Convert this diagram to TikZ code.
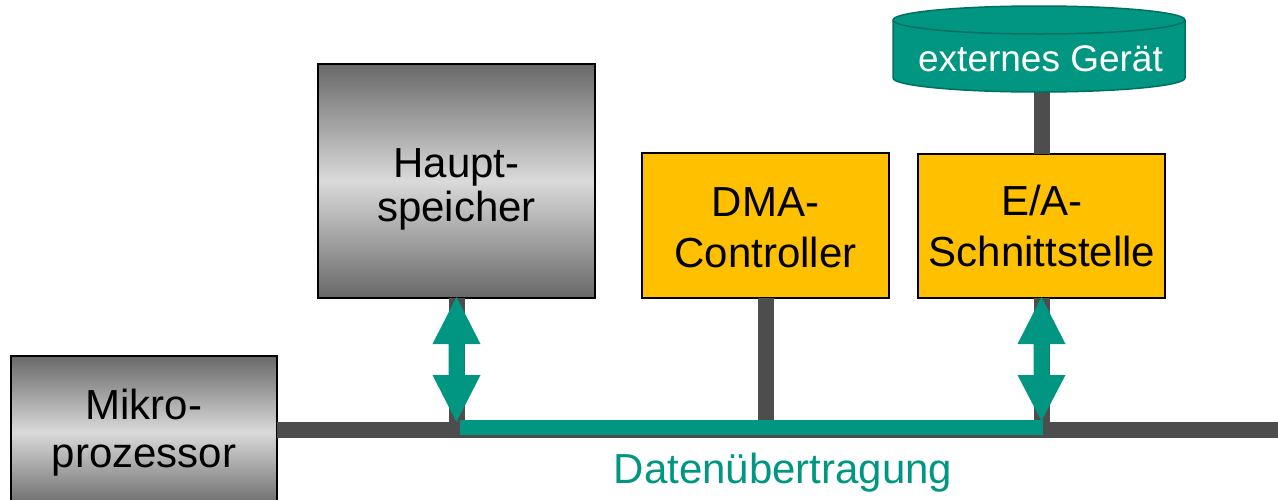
\documentclass[tikz,border=0pt]{standalone}
\usepackage{fontspec}
\setmainfont{Liberation Sans}
\usetikzlibrary{calc}
\definecolor{dteal}{RGB}{0,150,130}
\definecolor{cylborder}{RGB}{0,112,96}
\definecolor{gold}{RGB}{255,192,0}
\definecolor{busgray}{RGB}{77,77,77}
\definecolor{boxdark}{RGB}{104,104,104}
\definecolor{boxlight}{RGB}{218,218,218}
\begin{document}
\begin{tikzpicture}[x=1pt,y=1pt,
  graybox/.style={draw=black, line width=2pt, shading=axis, top color=boxdark, bottom color=boxdark, middle color=boxlight, inner sep=0pt, outer sep=0pt},
  goldbox/.style={draw=black, line width=2pt, fill=gold, inner sep=0pt, outer sep=0pt},
  txt/.style={align=center, inner sep=0pt, font=\fontsize{42}{51}\selectfont},
  stem/.style={draw=busgray, line width=16pt},
  dataline/.style={draw=dteal, line width=15pt},
  arrowfill/.style={fill=dteal}
]
\useasboundingbox (0,0) rectangle (1278,-499);

% boxes
\node[graybox, minimum width=266, minimum height=152, anchor=north west] (mikro) at (11,-356) {};
\node[graybox, minimum width=277, minimum height=234, anchor=north west] (haupt) at (318,-64) {};
\node[goldbox, minimum width=247, minimum height=145, anchor=north west] (dma) at (642,-153) {};
\node[goldbox, minimum width=247, minimum height=144, anchor=north west] (ea) at (918,-154) {};

% bus and stems
\coordinate (busend) at (1282,-430);
\draw[stem] (mikro.east |- busend) -- (busend);
\draw[stem] (haupt.south) -- (haupt.south |- busend);
\draw[stem] (dma.south) -- (dma.south |- busend);
\draw[stem] (ea.south) -- (ea.south |- busend);
\coordinate (cylbot) at (1041.5,-88);
\draw[stem] (cylbot) -- (ea.north);

% data transfer line
\draw[dataline] ($(haupt.south |- busend)+(3,2.5)$) -- ($(ea.south |- busend)+(1.5,2.5)$);

% double arrows
\fill[arrowfill] ($(haupt.south)+(0,1)$) -- ++(24,-47) -- ++(-16,0) -- ++(0,-31) -- ++(16,0) -- ++(-24,-47) -- ++(-24,47) -- ++(16,0) -- ++(0,31) -- ++(-16,0) -- cycle;
\fill[arrowfill] ($(ea.south)+(0,1)$) -- ++(24,-47) -- ++(-16,0) -- ++(0,-31) -- ++(16,0) -- ++(-24,-46) -- ++(-24,46) -- ++(16,0) -- ++(0,31) -- ++(-16,0) -- cycle;

% cylinder
\fill[dteal] (893,-20) -- (893,-78) arc[start angle=180, end angle=360, x radius=146, y radius=14] -- (1185,-20) arc[start angle=0, end angle=180, x radius=146, y radius=14] -- cycle;
\draw[cylborder, line width=1.5pt] (893,-20) -- (893,-78) arc[start angle=180, end angle=360, x radius=146, y radius=14] -- (1185,-20);
\draw[cylborder, line width=1.5pt] (1039,-20) ellipse[x radius=146, y radius=14];
\node[font=\fontsize{37}{44}\selectfont, text=white, anchor=base, inner sep=0pt] (geraet) at (1040.5,-71) {externes Gerät};

% texts
\node[txt, font=\fontsize{42}{48}\selectfont] (mikroT) at (mikro.center |- 0,-433) {Mikro-\\prozessor};
\node[txt, font=\fontsize{42}{44}\selectfont] (hauptT) at (456.5,-189.5) {Haupt-\\speicher};
\node[txt] (dmaT) at (765.5,-227.5) {DMA-\\Controller};
\node[txt] (eaT) at (1042,-226) {E/A-\\Schnittstelle};
\node[font=\fontsize{42}{50}\selectfont, text=dteal, anchor=base, inner sep=0pt] (daten) at (783,-483) {Datenübertragung};
\end{tikzpicture}
\end{document}
